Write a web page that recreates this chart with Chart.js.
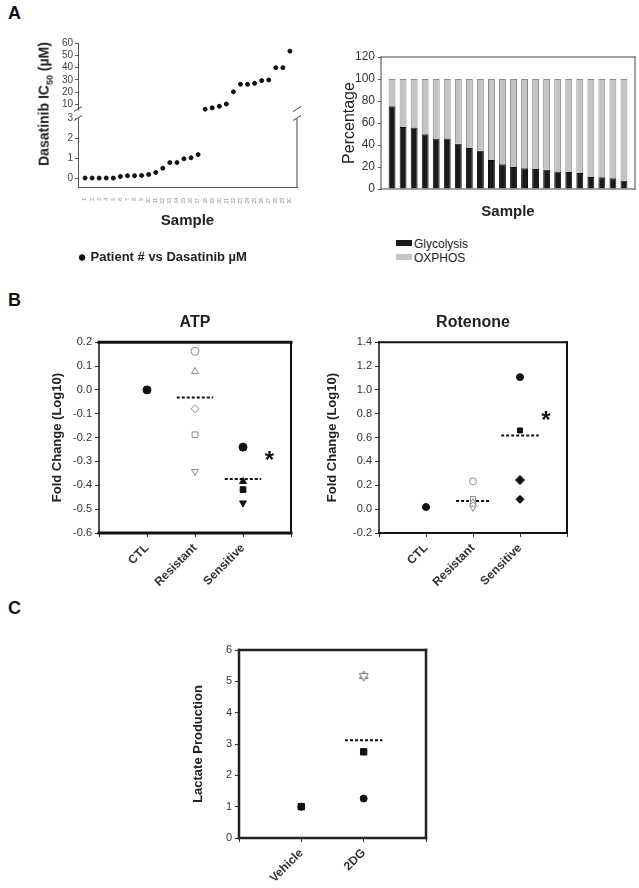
<!DOCTYPE html>
<html>
<head>
<meta charset="utf-8">
<script src="https://cdn.jsdelivr.net/npm/chart.js@4/dist/chart.umd.min.js"></script>
<style>
  body { margin: 0; background: #fff; width: 639px; height: 888px; position: relative; overflow: hidden;
         font-family: Arial, "Liberation Sans", Helvetica, sans-serif; }
  canvas { position: absolute; }
  .panel { position: absolute; font-weight: bold; font-size: 18px; color: #111; }
  .ytitle { position: absolute; transform: translate(-50%, -50%) rotate(-90deg); white-space: nowrap;
            font-weight: bold; font-size: 14px; color: #222; }
  .ytitle sub { font-size: 9px; }
  #oxLegend { position: absolute; left: 396px; top: 237px; font-size: 12px; color: #222; }
  #oxLegend div { height: 14px; line-height: 14px; white-space: nowrap; }
  #oxLegend span { display: inline-block; width: 16px; height: 6px; margin-right: 2px; vertical-align: 2px; }
</style>
</head>
<body>
<div class="panel" style="left:8px;top:3px">A</div>
<div class="panel" style="left:8px;top:290px">B</div>
<div class="panel" style="left:8px;top:598px">C</div>

<canvas id="ic50Chart" width="320" height="274" style="left:0;top:0"></canvas>
<div class="ytitle" style="left:45px;top:104px">Dasatinib IC<sub>50</sub> (µM)</div>
<canvas id="oxChart" width="319" height="235" style="left:320px;top:0"></canvas>
<div id="oxLegend"></div>
<canvas id="atpChart" width="320" height="320" style="left:0;top:290px"></canvas>
<canvas id="rotChart" width="319" height="320" style="left:320px;top:290px"></canvas>
<canvas id="lacChart" width="330" height="288" style="left:130px;top:600px"></canvas>

<script>
// ---- A: Dasatinib IC50 per patient
const patients = [1,2,3,4,5,6,7,8,9,10,11,12,13,14,15,16,17,18,19,20,21,22,23,24,25,26,27,28,29,30];
const ic50 = [0,0,0,0,0,0.08,0.12,0.12,0.13,0.18,0.28,0.5,0.78,0.78,0.97,1.02,1.18,
              6.3,7.4,8.7,10.5,20.4,26.5,26.5,27.3,29.5,30,40,40,53.4];
const BREAK_AT = 3;

// ---- A: glycolysis / OXPHOS share per sample
const samples = [1,2,3,4,5,6,7,8,9,10,11,12,13,14,15,16,17,18,19,20,21,22];
const glycolysis = [75.2,56.4,55.8,49.7,45.8,45.8,41.2,37.3,34.8,26.4,22.4,20,18.8,18.2,17.6,15.8,15.5,14.5,10.9,10.6,9.7,7.6];
const oxphos = [24.8,43.6,44.2,50.3,54.2,54.2,58.8,62.7,65.2,73.6,77.6,80,81.2,81.8,82.4,84.2,84.5,85.5,89.1,89.4,90.3,92.4];

// ---- B: ATP and Rotenone fold change (log10)
const groups = ['CTL', 'Resistant', 'Sensitive'];
const atpCtl = [0.0];
const atpResistant = [0.162, 0.077, -0.079, -0.188, -0.342];
const atpSensitive = [-0.24, -0.384, -0.418, -0.474];
const atpMeans = [-0.032, -0.374];
const rotCtl = [0.018];
const rotResistant = [0.233, 0.085, 0.06, 0.03, 0.01];
const rotSensitive = [1.107, 0.66, 0.244, 0.082];
const rotMeans = [0.068, 0.618];

// ---- C: lactate production
const treatments = ['Vehicle', '2DG'];
const lacVehicle = [1.0, 1.0];
const lac2dg = [5.17, 2.75, 1.26];
const lacMeans = [3.12];

const FONT = 'Arial, "Liberation Sans", Helvetica, sans-serif';
Chart.defaults.font.family = FONT;
Chart.defaults.color = '#333';
Chart.defaults.animation = false;
Chart.defaults.plugins.legend.display = false;
Chart.defaults.plugins.tooltip.enabled = false;

// box round the plot area, each side with its own width
const framePlugin = {
  id: 'frame',
  afterDraw(chart, args, o) {
    const a = chart.chartArea, ctx = chart.ctx;
    ctx.save();
    ctx.strokeStyle = o.color || '#222';
    ctx.lineCap = 'square';
    const side = (w, x1, y1, x2, y2) => {
      if (!w) return;
      ctx.lineWidth = w;
      ctx.beginPath(); ctx.moveTo(x1, y1); ctx.lineTo(x2, y2); ctx.stroke();
    };
    side(o.top, a.left, a.top, a.right, a.top);
    side(o.bottom, a.left, a.bottom, a.right, a.bottom);
    side(o.left, a.left, a.top, a.left, a.bottom);
    side(o.right, a.right, a.top, a.right, a.bottom);
    ctx.restore();
  }
};

// significance star
const asteriskPlugin = {
  id: 'asterisk',
  afterDraw(chart, args, o) {
    if (o.x === undefined) return;
    const ctx = chart.ctx;
    ctx.save();
    ctx.font = 'bold 24px ' + FONT;
    ctx.fillStyle = '#111';
    ctx.textAlign = 'center';
    ctx.textBaseline = 'middle';
    ctx.fillText('*', chart.scales.x.getPixelForValue(o.x), chart.scales.y.getPixelForValue(o.y) + 5);
    ctx.restore();
  }
};

// broken axis marks for the IC50 plot
const breakPlugin = {
  id: 'axisBreak',
  afterDraw(chart) {
    const ctx = chart.ctx, a = chart.chartArea;
    const yb = chart.scales.yHigh.bottom;
    ctx.save();
    ctx.strokeStyle = '#444';
    ctx.lineWidth = 1;
    // right frame line, lower part only
    ctx.beginPath(); ctx.moveTo(a.right, yb); ctx.lineTo(a.right, a.bottom); ctx.stroke();
    [a.left, a.right].forEach(x => {
      ctx.fillStyle = '#fff';
      ctx.fillRect(x - 3, yb - 4, 6, 8);
      ctx.beginPath();
      ctx.moveTo(x - 4, yb - 3); ctx.lineTo(x + 4, yb - 8);
      ctx.moveTo(x - 4, yb + 6); ctx.lineTo(x + 4, yb + 1);
      ctx.stroke();
    });
    ctx.restore();
  }
};

// legend written as html rows
const htmlLegendPlugin = {
  id: 'htmlLegend',
  afterUpdate(chart, args, o) {
    const box = document.getElementById(o.containerID);
    box.innerHTML = '';
    chart.data.datasets.forEach(ds => {
      const row = document.createElement('div');
      const sw = document.createElement('span');
      sw.style.background = ds.backgroundColor;
      row.appendChild(sw);
      row.appendChild(document.createTextNode(ds.label));
      box.appendChild(row);
    });
  }
};

// ---------------- A left: IC50 scatter with broken y axis
const lowPts = [], highPts = [];
patients.forEach((p, i) => (ic50[i] <= BREAK_AT ? lowPts : highPts).push({x: p, y: ic50[i]}));

const yCommon = {
  position: 'left',
  stack: 'ic50',
  grid: {drawOnChartArea: false, tickLength: 3, color: '#555'},
  border: {color: '#555'},
  ticks: {font: {size: 10}, color: '#444', padding: 2, autoSkip: false},
  afterFit: s => { s.width = 48; }
};

new Chart(document.getElementById('ic50Chart'), {
  type: 'scatter',
  data: {
    datasets: [
      {label: 'Patient # vs Dasatinib µM', data: lowPts, yAxisID: 'yLow',
       backgroundColor: '#111', borderColor: '#111', pointRadius: 2},
      {label: 'high', data: highPts, yAxisID: 'yHigh',
       backgroundColor: '#111', borderColor: '#111', pointRadius: 2}
    ]
  },
  options: {
    responsive: false,
    layout: {padding: {top: 43, right: 23, left: 30, bottom: 0}},
    scales: {
      x: {
        type: 'linear', min: 0, max: 31,
        afterBuildTicks: s => { s.ticks = patients.map(v => ({value: v})); },
        ticks: {autoSkip: false, minRotation: 90, maxRotation: 90, font: {size: 5}, color: '#888', padding: 3},
        grid: {display: false},
        border: {color: '#555'},
        title: {display: true, text: 'Sample', font: {size: 15, weight: 'bold'}, color: '#222',
                padding: {top: 0, bottom: 11}},
        afterFit: s => { s.height = 54; }
      },
      yHigh: Object.assign({}, yCommon, {
        weight: 2, stackWeight: 72, min: 2, max: 60,
        afterBuildTicks: s => { s.ticks = [10, 20, 30, 40, 50, 60].map(v => ({value: v})); }
      }),
      yLow: Object.assign({}, yCommon, {
        weight: 1, stackWeight: 73, min: -0.45, max: 3.2,
        afterBuildTicks: s => { s.ticks = [0, 1, 2, 3].map(v => ({value: v})); }
      })
    },
    plugins: {
      legend: {
        display: true, position: 'bottom',
        labels: {
          filter: item => item.datasetIndex === 0,
          usePointStyle: true, pointStyle: 'circle', boxWidth: 4, boxHeight: 4,
          font: {size: 13, weight: 'bold'}, color: '#222'
        }
      }
    }
  },
  plugins: [breakPlugin]
});

// ---------------- A right: stacked bars
new Chart(document.getElementById('oxChart'), {
  type: 'bar',
  data: {
    datasets: [
      {label: 'Glycolysis', data: samples.map((s, i) => ({x: s, y: glycolysis[i]})),
       backgroundColor: '#1a1a1a', borderColor: '#111', borderWidth: 1},
      {label: 'OXPHOS', data: samples.map((s, i) => ({x: s, y: oxphos[i]})),
       backgroundColor: '#c4c4c4', borderColor: '#8a8a8a', borderWidth: 1}
    ]
  },
  options: {
    responsive: false,
    layout: {padding: {top: 57, right: 4, left: 0, bottom: 0}},
    datasets: {bar: {barPercentage: 0.78, categoryPercentage: 0.8}},
    scales: {
      x: {
        type: 'linear', stacked: true, min: 0, max: 23, offset: false,
        ticks: {display: false},
        grid: {display: false},
        border: {display: false},
        title: {display: true, text: 'Sample', font: {size: 15, weight: 'bold'}, color: '#222',
                padding: {top: 0, bottom: 14}},
        afterFit: s => { s.height = 46; }
      },
      y: {
        stacked: true, min: 0, max: 120,
        ticks: {stepSize: 20, font: {size: 12}, color: '#333', padding: 3},
        grid: {drawOnChartArea: false, tickLength: 3, color: '#555'},
        border: {display: false},
        title: {display: true, text: 'Percentage', font: {size: 16}, color: '#222', padding: {top: 20}},
        afterFit: s => { s.width = 61; }
      }
    },
    plugins: {
      frame: {top: 1, bottom: 1, left: 1, right: 1, color: '#444'},
      htmlLegend: {containerID: 'oxLegend'}
    }
  },
  plugins: [framePlugin, htmlLegendPlugin]
});

// ---------------- B and C: dot plots with dashed mean lines
function scatterSet(x, values, styles, opts) {
  return Object.assign({
    type: 'scatter',
    data: values.map(v => ({x: x, y: v})),
    pointStyle: styles,
    borderWidth: 1
  }, opts);
}
function meanSet(x, value, half) {
  return {
    type: 'line', data: [{x: x - half, y: value}, {x: x + half, y: value}],
    borderColor: '#111', borderWidth: 2, borderDash: [3, 2], pointRadius: 0
  };
}
function dotChart(id, o) {
  return new Chart(document.getElementById(id), {
    type: 'scatter',
    data: {datasets: o.datasets},
    options: {
      responsive: false,
      layout: {padding: o.padding},
      scales: {
        x: {
          type: 'linear', min: 0, max: o.labels.length + 1,
          afterBuildTicks: s => {
            s.ticks = [];
            for (let v = 0; v <= o.labels.length + 1; v++) s.ticks.push({value: v});
          },
          ticks: {autoSkip: false, minRotation: 45, maxRotation: 45, padding: 4,
                  font: {size: 12, weight: 'bold'}, color: '#333',
                  callback: v => o.labels[v - 1] || ''},
          grid: {drawOnChartArea: false, tickLength: 4, color: '#333'},
          border: {display: false},
          afterFit: s => { s.height = o.xHeight; }
        },
        y: {
          min: o.yMin, max: o.yMax,
          ticks: {stepSize: o.step, font: {size: 11}, color: '#333', padding: 3,
                  callback: v => o.decimals ? (Math.abs(v) < 1e-9 ? '0.0' : v.toFixed(o.decimals)) : v},
          grid: {drawOnChartArea: false, tickLength: 4, color: '#333'},
          border: {display: false},
          title: {display: true, text: o.yTitle, font: {size: 13, weight: 'bold'}, color: '#222',
                  padding: {top: o.yTitlePad}},
          afterFit: s => { s.width = o.yWidth; }
        }
      },
      plugins: {
        title: o.title ? {display: true, text: o.title, fullSize: false,
                          font: {size: 16, weight: 'bold'}, color: '#222',
                          padding: {top: 23, bottom: 10}} : {display: false},
        frame: o.frame,
        asterisk: o.star || {}
      }
    },
    plugins: [framePlugin, asteriskPlugin]
  });
}

const openGray = {backgroundColor: '#fff', borderColor: '#8c8c8c'};
const solid = {backgroundColor: '#111', borderColor: '#111'};

dotChart('atpChart', {
  labels: groups, title: 'ATP', yTitle: 'Fold Change (Log10)',
  yMin: -0.6, yMax: 0.2, step: 0.1, decimals: 1,
  padding: {top: 0, right: 29, left: 0, bottom: 0}, yWidth: 99, xHeight: 77, yTitlePad: 50,
  frame: {top: 3, bottom: 3, left: 1.5, right: 2, color: '#111'},
  star: {x: 3.55, y: -0.28},
  datasets: [
    scatterSet(1, atpCtl, ['circle'], Object.assign({pointRadius: 4}, solid)),
    scatterSet(2, atpResistant, ['circle', 'triangle', 'rectRot', 'rect', 'triangle'],
               Object.assign({pointRadius: 4, pointRotation: [0, 0, 0, 0, 180]}, openGray)),
    scatterSet(3, atpSensitive, ['circle', 'triangle', 'rect', 'triangle'],
               Object.assign({pointRadius: [4, 4, 4, 4], pointRotation: [0, 0, 0, 180]}, solid)),
    meanSet(2, atpMeans[0], 0.38),
    meanSet(3, atpMeans[1], 0.38)
  ]
});

dotChart('rotChart', {
  labels: groups, title: 'Rotenone', yTitle: 'Fold Change (Log10)',
  yMin: -0.2, yMax: 1.4, step: 0.2, decimals: 1,
  padding: {top: 0, right: 72, left: 0, bottom: 0}, yWidth: 59, xHeight: 77, yTitlePad: 5,
  frame: {top: 2, bottom: 2, left: 1.5, right: 2, color: '#111'},
  star: {x: 3.55, y: 0.78},
  datasets: [
    scatterSet(1, rotCtl, ['circle'], Object.assign({pointRadius: 3.5}, solid)),
    scatterSet(2, rotResistant, ['circle', 'rect', 'triangle', 'rectRot', 'triangle'],
               Object.assign({pointRadius: 3.5, pointRotation: [0, 0, 0, 0, 180]}, openGray)),
    scatterSet(3, rotSensitive, ['circle', 'rect', 'rectRot', 'rectRot'],
               Object.assign({pointRadius: [3.5, 3.5, 4.5, 4]}, solid)),
    meanSet(2, rotMeans[0], 0.36),
    meanSet(3, rotMeans[1], 0.4)
  ]
});

// six-point star marker for panel C
const hexStar = document.createElement('canvas');
hexStar.width = 12; hexStar.height = 12;
(() => {
  const c = hexStar.getContext('2d');
  c.strokeStyle = '#777'; c.fillStyle = '#fff'; c.lineWidth = 1;
  [[6, 1, 1.7, 8.5, 10.3, 8.5], [6, 11, 1.7, 3.5, 10.3, 3.5]].forEach(p => {
    c.beginPath(); c.moveTo(p[0], p[1]); c.lineTo(p[2], p[3]); c.lineTo(p[4], p[5]); c.closePath();
    c.fill(); c.stroke();
  });
})();

dotChart('lacChart', {
  labels: treatments, yTitle: 'Lactate Production',
  yMin: 0, yMax: 6, step: 1, decimals: 0,
  padding: {top: 50, right: 34, left: 0, bottom: 0}, yWidth: 109, xHeight: 50, yTitlePad: 61,
  frame: {top: 2.5, bottom: 2.5, left: 2.5, right: 2.5, color: '#222'},
  datasets: [
    scatterSet(1, lacVehicle, ['rect', 'circle'], Object.assign({pointRadius: [4.5, 3.5]}, solid)),
    scatterSet(2, lac2dg, [hexStar, 'rect', 'circle'], Object.assign({pointRadius: [5, 4.5, 3.5]}, solid)),
    meanSet(2, lacMeans[0], 0.3)
  ]
});
</script>
</body>
</html>
